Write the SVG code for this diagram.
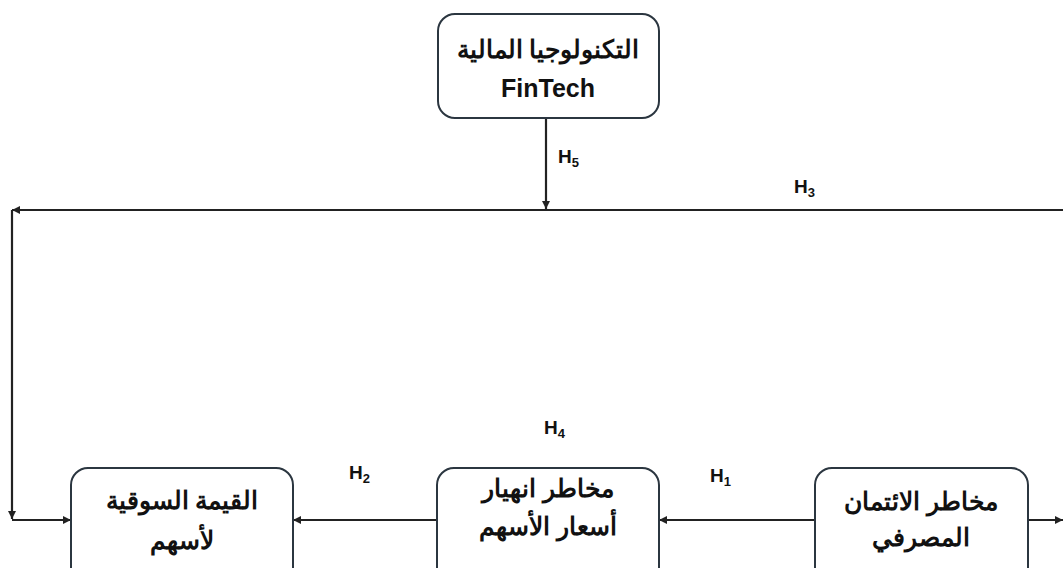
<svg xmlns="http://www.w3.org/2000/svg" width="1063" height="568" viewBox="0 0 1063 568">
<defs>
<marker id="ah" viewBox="0 0 10 10" refX="10" refY="5" markerWidth="8" markerHeight="8" markerUnits="userSpaceOnUse" orient="auto">
<path d="M0,0 L10,5 L0,10 Z" fill="#222"/>
</marker>
<style>
.box{fill:#fff;stroke:#2b3640;stroke-width:2}
.ln{fill:none;stroke:#222;stroke-width:2.2;marker-end:url(#ah)}
.t{font-family:"Liberation Sans","Noto Sans",Arial,sans-serif;font-weight:bold;font-size:25px;fill:#111;text-anchor:middle}
.h{font-family:"Liberation Sans",Arial,sans-serif;font-weight:bold;font-size:19px;fill:#111}
.s{font-size:13px}
</style>
</defs>
<rect width="1063" height="568" fill="#fff"/>
<g id="connectors">
<path class="ln" d="M546,118 L546,209"/>
<path class="ln" d="M1063,210 L12,210"/>
<path class="ln" d="M12,210 L12,519"/>
<path class="ln" d="M12,520 L71,520"/>
<path class="ln" d="M437,520 L293,520"/>
<path class="ln" d="M815,520 L659,520"/>
<path class="ln" d="M1028,520 L1063,520"/>
</g>
<g id="labels">
<text class="h" x="558" y="163">H<tspan class="s" dy="4">5</tspan></text>
<text class="h" x="794" y="193">H<tspan class="s" dy="4">3</tspan></text>
<text class="h" x="544" y="434">H<tspan class="s" dy="4">4</tspan></text>
<text class="h" x="349" y="479">H<tspan class="s" dy="4">2</tspan></text>
<text class="h" x="710" y="482">H<tspan class="s" dy="4">1</tspan></text>
</g>
<g id="node-fintech">
<rect class="box" x="438" y="14" width="221" height="104" rx="17"/>
<text class="t" x="548" y="58" direction="rtl">التكنولوجيا المالية</text>
<text class="t" x="548" y="97">FinTech</text>
</g>
<g id="node-market-value">
<rect class="box" x="71" y="468" width="222" height="120" rx="17"/>
<text class="t" x="182" y="509" direction="rtl">القيمة السوقية</text>
<text class="t" x="182" y="549" direction="rtl">لأسهم</text>
</g>
<g id="node-crash-risk">
<rect class="box" x="437" y="468" width="222" height="120" rx="17"/>
<text class="t" x="548" y="497" direction="rtl">مخاطر انهيار</text>
<text class="t" x="548" y="535" direction="rtl">أسعار الأسهم</text>
</g>
<g id="node-credit-risk">
<rect class="box" x="815" y="468" width="213" height="120" rx="17"/>
<text class="t" x="921" y="510" direction="rtl">مخاطر الائتمان</text>
<text class="t" x="921" y="546" direction="rtl">المصرفي</text>
</g>
</svg>
